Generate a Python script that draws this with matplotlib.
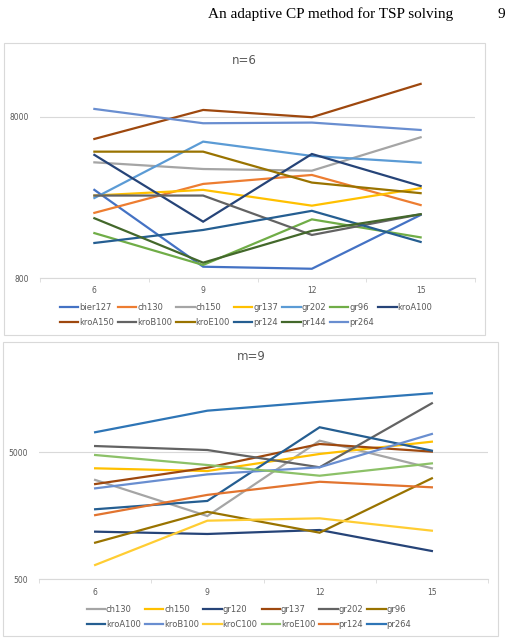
import numpy as np
import matplotlib.pyplot as plt
from matplotlib.patches import Rectangle

# x categories (shared by both panels)
x_labels = ["6", "9", "12", "15"]

# panel 1: n=6
names_n6 = ["bier127", "ch130", "ch150", "gr137", "gr202", "gr96", "kroA100",
            "kroA150", "kroB100", "kroE100", "pr124", "pr144", "pr264"]
bier127 = [2820, 940, 913, 1970]
ch130 = [2030, 3070, 3490, 2270]
ch150 = [4180, 3800, 3710, 5980]
gr137 = [2600, 2820, 2250, 2890]
gr202 = [2510, 5620, 4580, 4160]
gr96 = [1520, 964, 1850, 1430]
kroA100 = [4650, 1790, 4710, 2980]
kroA150 = [5840, 8840, 7970, 12830]
kroB100 = [2600, 2600, 1480, 1990]
kroE100 = [4870, 4870, 3130, 2690]
pr124 = [1320, 1590, 2090, 1340]
pr144 = [1880, 996, 1570, 1990]
pr264 = [8970, 7310, 7380, 6640]
vals_n6 = [bier127, ch130, ch150, gr137, gr202, gr96, kroA100,
           kroA150, kroB100, kroE100, pr124, pr144, pr264]
colors_n6 = ["#4472C4", "#ED7D31", "#A5A5A5", "#FFC000", "#5B9BD5", "#70AD47", "#264478",
             "#9E480E", "#636363", "#997300", "#255E91", "#43682B", "#698ED0"]

# panel 2: m=9
names_m9 = ["ch130", "ch150", "gr120", "gr137", "gr202", "gr96",
            "kroA100", "kroB100", "kroC100", "kroE100", "pr124", "pr264"]
m_ch130 = [3030, 1574, 6170, 3740]
m_ch150 = [3740, 3560, 4850, 6060]
m_gr120 = [1186, 1137, 1222, 835]
m_gr137 = [2810, 3780, 5810, 5060]
m_gr202 = [5600, 5210, 3810, 12160]
m_gr96 = [971, 1700, 1164, 3120]
m_kroA100 = [1780, 2070, 7870, 5150]
m_kroB100 = [2600, 3350, 3810, 6970]
m_kroC100 = [648, 1447, 1510, 1207]
m_kroE100 = [4760, 3970, 3270, 4090]
m_pr124 = [1600, 2310, 2930, 2650]
m_pr264 = [7190, 10630, 12500, 14580]
vals_m9 = [m_ch130, m_ch150, m_gr120, m_gr137, m_gr202, m_gr96,
           m_kroA100, m_kroB100, m_kroC100, m_kroE100, m_pr124, m_pr264]
colors_m9 = ["#A5A5A5", "#FFC000", "#264478", "#9E480E", "#636363", "#997300",
             "#255E91", "#698ED0", "#FFCD33", "#8CC168", "#E2742F", "#2E75B6"]

TXT = "#595959"
GRID = "#D9D9D9"

fig = plt.figure(figsize=(5.08, 6.39), dpi=100)
W, H = 508, 639


def px_rect(x0, y0, x1, y1):
    # pixel box (top-left origin) -> figure fraction [l, b, w, h]
    return [x0 / W, 1 - y1 / H, (x1 - x0) / W, (y1 - y0) / H]


def panel(box, frame, title, title_xy, names, vals, colors, ylim, yticks, ncol, leg_xy):
    fig.patches.append(Rectangle((frame[0] / W, 1 - frame[3] / H),
                                 (frame[2] - frame[0]) / W, (frame[3] - frame[1]) / H,
                                 transform=fig.transFigure, fill=False,
                                 edgecolor=GRID, lw=0.8))
    ax = fig.add_axes(px_rect(*box))
    x = np.arange(len(x_labels))
    lines = []
    for nm, v, c in zip(names, vals, colors):
        ln, = ax.plot(x, v, color=c, lw=1.6, label=nm, solid_joinstyle="miter")
        lines.append(ln)
    ax.set_yscale("log")
    ax.set_ylim(*ylim)
    ax.set_xlim(-0.5, len(x_labels) - 0.5)
    ax.set_yticks(yticks)
    ax.set_yticklabels([str(t) for t in yticks])
    ax.yaxis.set_minor_locator(plt.NullLocator())
    ax.set_xticks(x)
    ax.set_xticklabels(x_labels)
    ax.set_xticks(np.arange(-0.5, len(x_labels)), minor=True)
    ax.tick_params(axis="x", which="major", length=0, pad=6, labelsize=5.5, colors=TXT)
    ax.tick_params(axis="x", which="minor", length=3, color=GRID, direction="out")
    ax.tick_params(axis="y", length=0, pad=8, labelsize=5.5, colors=TXT)
    ax.grid(axis="y", color=GRID, lw=0.8)
    ax.set_axisbelow(True)
    for s in ["top", "right", "left"]:
        ax.spines[s].set_visible(False)
    ax.spines["bottom"].set_color(GRID)
    ax.patch.set_alpha(0)
    fig.text(title_xy[0] / W, 1 - title_xy[1] / H, title, ha="center", va="center",
             fontsize=8.5, color=TXT)
    # reorder so the legend reads row by row
    nrow = 2
    order = []
    for c in range(ncol):
        for r in range(nrow):
            i = r * ncol + c
            if i < len(lines):
                order.append(i)
    fig.legend([lines[i] for i in order], [names[i] for i in order],
               loc="center", bbox_to_anchor=(leg_xy[0] / W, 1 - leg_xy[1] / H),
               ncol=ncol, frameon=False, fontsize=6, labelcolor=TXT,
               handlelength=2.2, handletextpad=0.1, columnspacing=0.5,
               labelspacing=0.75, borderpad=0)
    return ax


panel((40, 75, 475, 278), (4, 43, 485, 335), "n=6", (244, 60),
      names_n6, vals_n6, colors_n6, (800, 14570), [800, 8000], 7, (246, 315))
panel((39, 375, 488, 579.3), (3, 342, 498, 636), "m=9", (251, 357),
      names_m9, vals_m9, colors_m9, (500, 20300), [500, 5000], 6, (249, 617))

fig.text(331 / W, 1 - 14 / H, "An adaptive CP method for TSP solving", ha="center",
         va="center", fontsize=11, family="Liberation Serif")
fig.text(505 / W, 1 - 14 / H, "9", ha="right", va="center", fontsize=11,
         family="Liberation Serif")

fig.savefig("out.png", dpi=100)
